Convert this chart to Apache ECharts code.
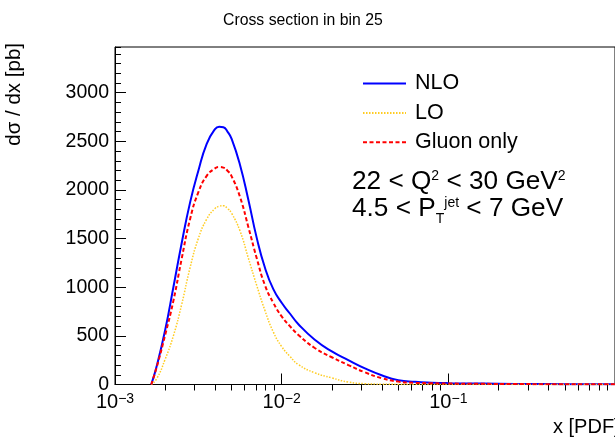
<!DOCTYPE html>
<html><head><meta charset="utf-8">
<script src="https://cdn.jsdelivr.net/npm/echarts@6/dist/echarts.min.js"></script>
<style>html,body{margin:0;padding:0;background:#fff}#c{width:615px;height:437px}</style>
</head><body><div id="c"></div>
<script>
// ---- data ----
const xValues = [0.00165,0.00178,0.002,0.00224,0.00251,0.00282,0.00316,0.00355,0.00398,0.00422,0.00447,0.00473,0.00501,0.00562,0.00631,0.00708,0.00794,0.00891,0.01,0.0112,0.0126,0.0158,0.02,0.0251,0.0316,0.0398,0.0501,0.0631,0.0794,0.1,0.158,0.251,0.398,0.631,1.0];
const nloValues = [0,190,560,1000,1450,1870,2195,2475,2625,2650,2645,2600,2525,2260,1900,1510,1200,980,840,730,620,460,340,250,165,95,45,28,19,14,9,6,4,3,2];
const loValues = [0,60,260,500,820,1200,1500,1700,1810,1832,1838,1810,1760,1580,1300,1020,760,540,390,290,205,120,68,25,8,3,1,0,0,0,0,0,0,0,0];
const gluonValues = [0,180,510,860,1290,1700,1975,2145,2222,2236,2230,2198,2140,1930,1620,1300,1020,840,700,600,510,375,280,200,125,65,30,17,13,10,7,5,3,2,2];
const seriesNames = ['NLO','LO','Gluon only'];
const xMajorTicks = [0.001,0.01,0.1,1];
const xMajorExponents = ['\u22123','\u22122','\u22121','0'];
const xMinorTicks = [0.002,0.003,0.004,0.005,0.006,0.007,0.008,0.009,0.02,0.03,0.04,0.05,0.06,0.07,0.08,0.09,0.2,0.3,0.4,0.5,0.6,0.7,0.8,0.9];
const yMax = 3470;
const yMajorStep = 500;
const yMinorStep = 100;
const titleText = 'Cross section in bin 25';
const yTitle = 'd\u03c3 / dx [pb]';
const xTitle = 'x [PDF]';

const pair = ys => xValues.map((x,i)=>[x, ys[i]]);
const FONT = 'Liberation Sans';
const chart = echarts.init(document.getElementById('c'), null, {renderer:'canvas'});
const expFor = v => xMajorTicks.findIndex(t => Math.abs(Math.log10(t) - Math.log10(v)) < 1e-6);

chart.setOption({
  animation:false,
  backgroundColor:'#fff',
  title:{text:titleText,left:218,top:8,padding:[5,5,5,5],textStyle:{fontFamily:FONT,fontSize:15.8,fontWeight:'normal',color:'#000'}},
  grid:{left:115,top:47,right:-7,bottom:52.5,show:true,borderColor:'#000',borderWidth:1,backgroundColor:'transparent'},
  legend:{orient:'vertical',left:362,top:72.5,padding:0,itemWidth:43,itemHeight:20,itemGap:7.4,
    itemStyle:{opacity:0},
    data:seriesNames,textStyle:{fontFamily:FONT,fontSize:21.5,color:'#000',lineHeight:20,padding:[0,0,0,4]}},
  xAxis:[{
    type:'log',logBase:10,min:0.001,max:1,
    axisLine:{lineStyle:{color:'#000',width:1}},
    axisTick:{inside:true,length:11,lineStyle:{color:'#000'}},
    splitLine:{show:false},
    axisLabel:{margin:8,showMaxLabel:false,color:'#000',fontFamily:FONT,fontSize:20,
      formatter:v=>{const k=expFor(v);return k<0?'':'10{sup|'+xMajorExponents[k]+'}';},
      rich:{sup:{fontSize:14,fontFamily:FONT,color:'#000',verticalAlign:'top',lineHeight:14}}}
  },{
    type:'log',logBase:10,min:0.001,max:1,
    axisLine:{show:false},
    axisTick:{inside:true,length:6,lineStyle:{color:'#000'},customValues:xMinorTicks},
    axisLabel:{show:false},splitLine:{show:false}
  }],
  yAxis:[{
    type:'value',min:0,max:yMax,interval:yMajorStep,
    axisLine:{show:true,lineStyle:{color:'#000',width:1}},
    axisTick:{show:true,inside:true,length:11,lineStyle:{color:'#000'}},
    splitLine:{show:false},
    axisLabel:{margin:6,showMaxLabel:false,color:'#000',fontFamily:FONT,fontSize:19.5,formatter:v=>String(v)}
  },{
    type:'value',min:0,max:yMax,interval:yMinorStep,position:'left',
    axisLine:{show:false},
    axisTick:{show:true,inside:true,length:6,lineStyle:{color:'#000'}},
    splitLine:{show:false},axisLabel:{show:false}
  }],
  series:[
    {name:seriesNames[0],type:'line',data:pair(nloValues),symbol:'none',smooth:0.5,
      lineStyle:{color:'#0000ff',width:2,type:'solid'},itemStyle:{color:'#0000ff'}},
    {name:seriesNames[1],type:'line',data:pair(loValues),symbol:'none',smooth:0.5,
      lineStyle:{color:'#ffcc22',width:1.5,type:[1.5,1.5]},itemStyle:{color:'#ffcc22'}},
    {name:seriesNames[2],type:'line',data:pair(gluonValues),symbol:'none',smooth:0.5,
      lineStyle:{color:'#ff0000',width:2,type:[4,2.5]},itemStyle:{color:'#ff0000'}}
  ],
  graphic:[
    {type:'text',x:25,y:43,rotation:Math.PI/2,style:{text:yTitle,font:'20.5px "Liberation Sans"',fill:'#000',align:'right',verticalAlign:'bottom'}},
    {type:'text',x:553,y:427,style:{text:xTitle,font:'20px "Liberation Sans"',fill:'#000',align:'left',verticalAlign:'middle'}},
    {type:'text',x:352,y:182,style:{text:'22 < Q{sup|2} < 30 GeV{sup|2}',fontFamily:FONT,fontSize:26.2,fill:'#000',align:'left',verticalAlign:'middle',
      rich:{sup:{fontSize:14,fontFamily:FONT,fill:'#000',verticalAlign:'top',lineHeight:14}}}},
    {type:'text',x:352,y:209,style:{text:'4.5 < P{sub|T}{sup|jet} < 7 GeV',fontFamily:FONT,fontSize:26.2,fill:'#000',align:'left',verticalAlign:'middle',
      rich:{sup:{fontSize:14,fontFamily:FONT,fill:'#000',verticalAlign:'top',lineHeight:14},
            sub:{fontSize:14,fontFamily:FONT,fill:'#000',verticalAlign:'bottom',lineHeight:14,padding:[0,0,-4,0]}}}}
  ]
});
</script></body></html>
